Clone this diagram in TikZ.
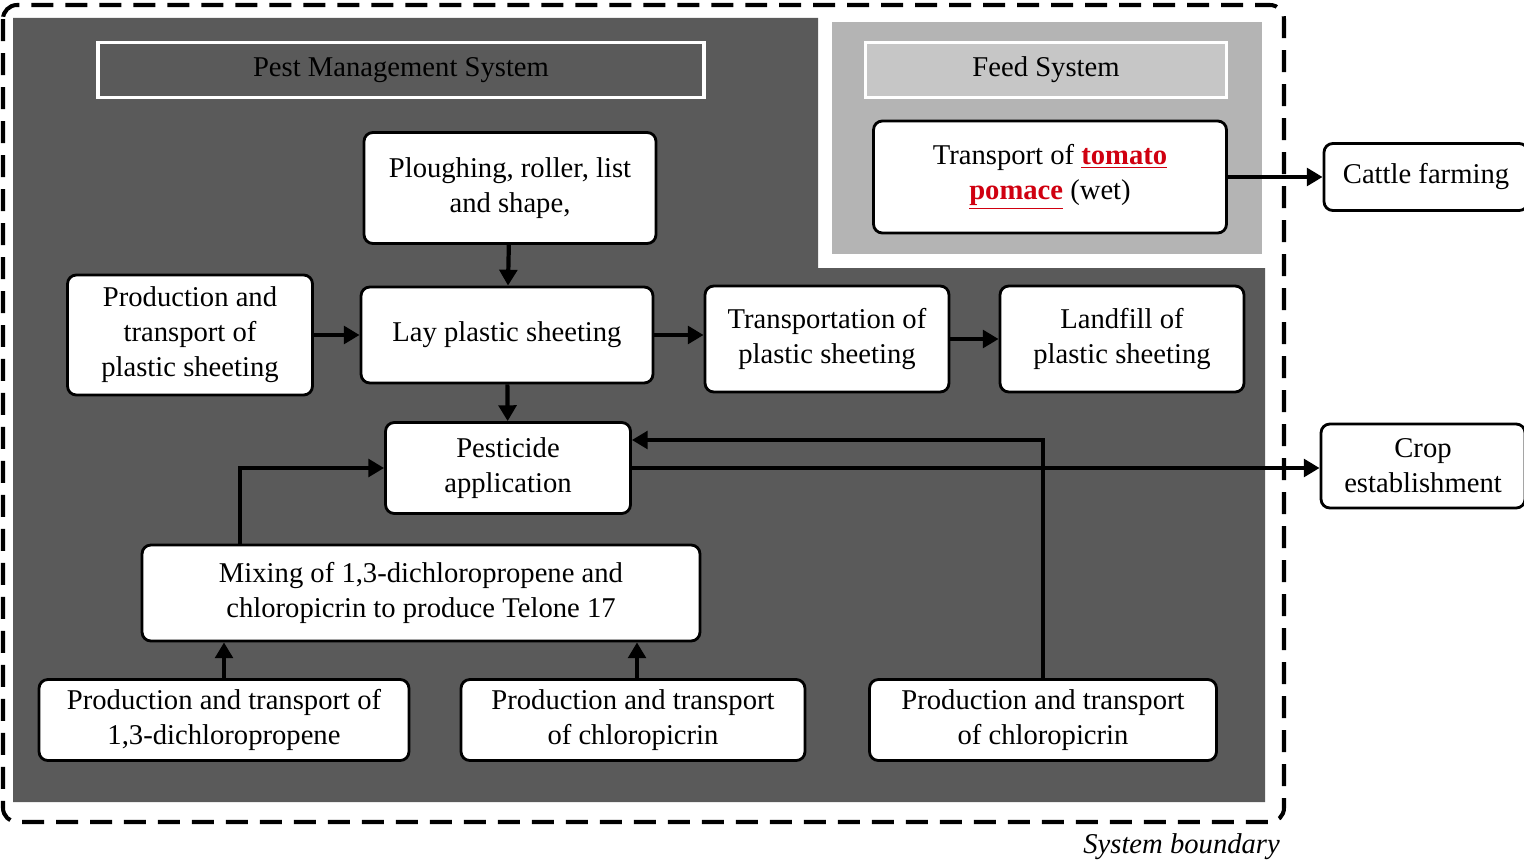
\documentclass[tikz,border=0pt]{standalone}
\usepackage{fontspec}
\setmainfont{Liberation Serif}
\usetikzlibrary{arrows.meta}

\begin{document}
\begin{tikzpicture}[x=0.02cm, y=-0.02cm,
    every node/.style={font=\fontsize{16.3}{20}\selectfont},
    box/.style={draw, line width=1.6pt, rounded corners=5pt, fill=white, align=center, inner sep=2pt},
    flow/.style={line width=2.4pt, -{Triangle[length=9pt, width=10pt]}},
    title/.style={draw=white, line width=1.8pt}]
    \definecolor{C0}{HTML}{5A5A5A}
    \definecolor{C1}{HTML}{B4B4B4}
    \definecolor{C2}{HTML}{C6C6C6}
    \definecolor{C3}{HTML}{D00010}

    \useasboundingbox (0,0) rectangle (1524,865);

    % system areas
    \path[fill=C0] (13,18) -- (818,18) -- (818,268) -- (1265,268) -- (1265,802) -- (13,802) -- cycle;
    \path[fill=C1] (832,22) rectangle (1262,254);
    \path[draw, line width=2.3pt, dash pattern=on 0.44cm off 0.24cm, rounded corners=8pt] (3,5) rectangle (1284,822);

    \node[title, fill=C0, minimum width=12.12cm, minimum height=1.1cm] (pms) at (401,70) {Pest Management System};
    \node[title, fill=C2, minimum width=7.22cm, minimum height=1.1cm] (feed) at (1046,70) {Feed System};

    \node[box, minimum width=5.84cm, minimum height=2.22cm] (plough) at (510,188) {Ploughing, roller, list\\and shape,};
    \node[box, minimum width=4.9cm, minimum height=2.4cm] (prodplastic) at (190,335) {Production and\\transport of\\plastic sheeting};
    \node[box, minimum width=5.84cm, minimum height=1.92cm] (lay) at (507,335) {Lay plastic sheeting};
    \node[box, minimum width=4.88cm, minimum height=2.12cm] (transplastic) at (827,339) {Transportation of\\plastic sheeting};
    \node[box, minimum width=4.88cm, minimum height=2.12cm] (landfill) at (1122,339) {Landfill of\\plastic sheeting};
    \node[box, minimum width=4.9cm, minimum height=1.82cm] (pest) at (508,468) {Pesticide\\application};
    \node[box, minimum width=11.16cm, minimum height=1.92cm] (mix) at (421,593) {Mixing of 1,3-dichloropropene and\\chloropicrin to produce Telone 17};
    \node[box, minimum width=7.4cm, minimum height=1.62cm] (dcp) at (224,720) {Production and transport of\\1,3-dichloropropene};
    \node[box, minimum width=6.88cm, minimum height=1.62cm] (chlA) at (633,720) {Production and transport\\of chloropicrin};
    \node[box, minimum width=6.94cm, minimum height=1.62cm] (chlB) at (1043,720) {Production and transport\\of chloropicrin};
    \node[box, minimum width=7.06cm, minimum height=2.24cm] (pomace) at (1050,177) {Transport of \textcolor{C3}{\underline{\textbf{tomato}}}\\\textcolor{C3}{\underline{\textbf{pomace}}} (wet)};
    \node[box, minimum width=4.08cm, minimum height=1.34cm] (cattle) at (1426,177) {Cattle farming};
    \node[box, minimum width=4.08cm, minimum height=1.68cm] (crop) at (1423,466) {Crop\\establishment};

    \node[anchor=east, font=\fontsize{16.3}{20}\selectfont\itshape] (boundary) at (1286,847) {System boundary};

    \draw[flow] (plough) -- (lay);
    \draw[flow] (prodplastic) -- (lay);
    \draw[flow] (lay) -- (transplastic.west |- lay.east);
    \draw[flow] (transplastic) -- (landfill);
    \draw[flow] (lay) -- (pest);
    \draw[flow] ([xshift=-3.62cm]mix.north) |- (pest.west);
    \draw[flow] (dcp.north) -- (dcp.north |- mix.south);
    \draw[flow] ([xshift=0.08cm]chlA.north) -- ([xshift=0.08cm]chlA.north |- mix.south);
    \draw[flow] (chlB.north) |- ([yshift=0.56cm]pest.east);
    \draw[flow] (pest.east) -- (crop.west |- pest.east);
    \draw[flow] (pomace) -- (cattle);

\end{tikzpicture}
\end{document}
